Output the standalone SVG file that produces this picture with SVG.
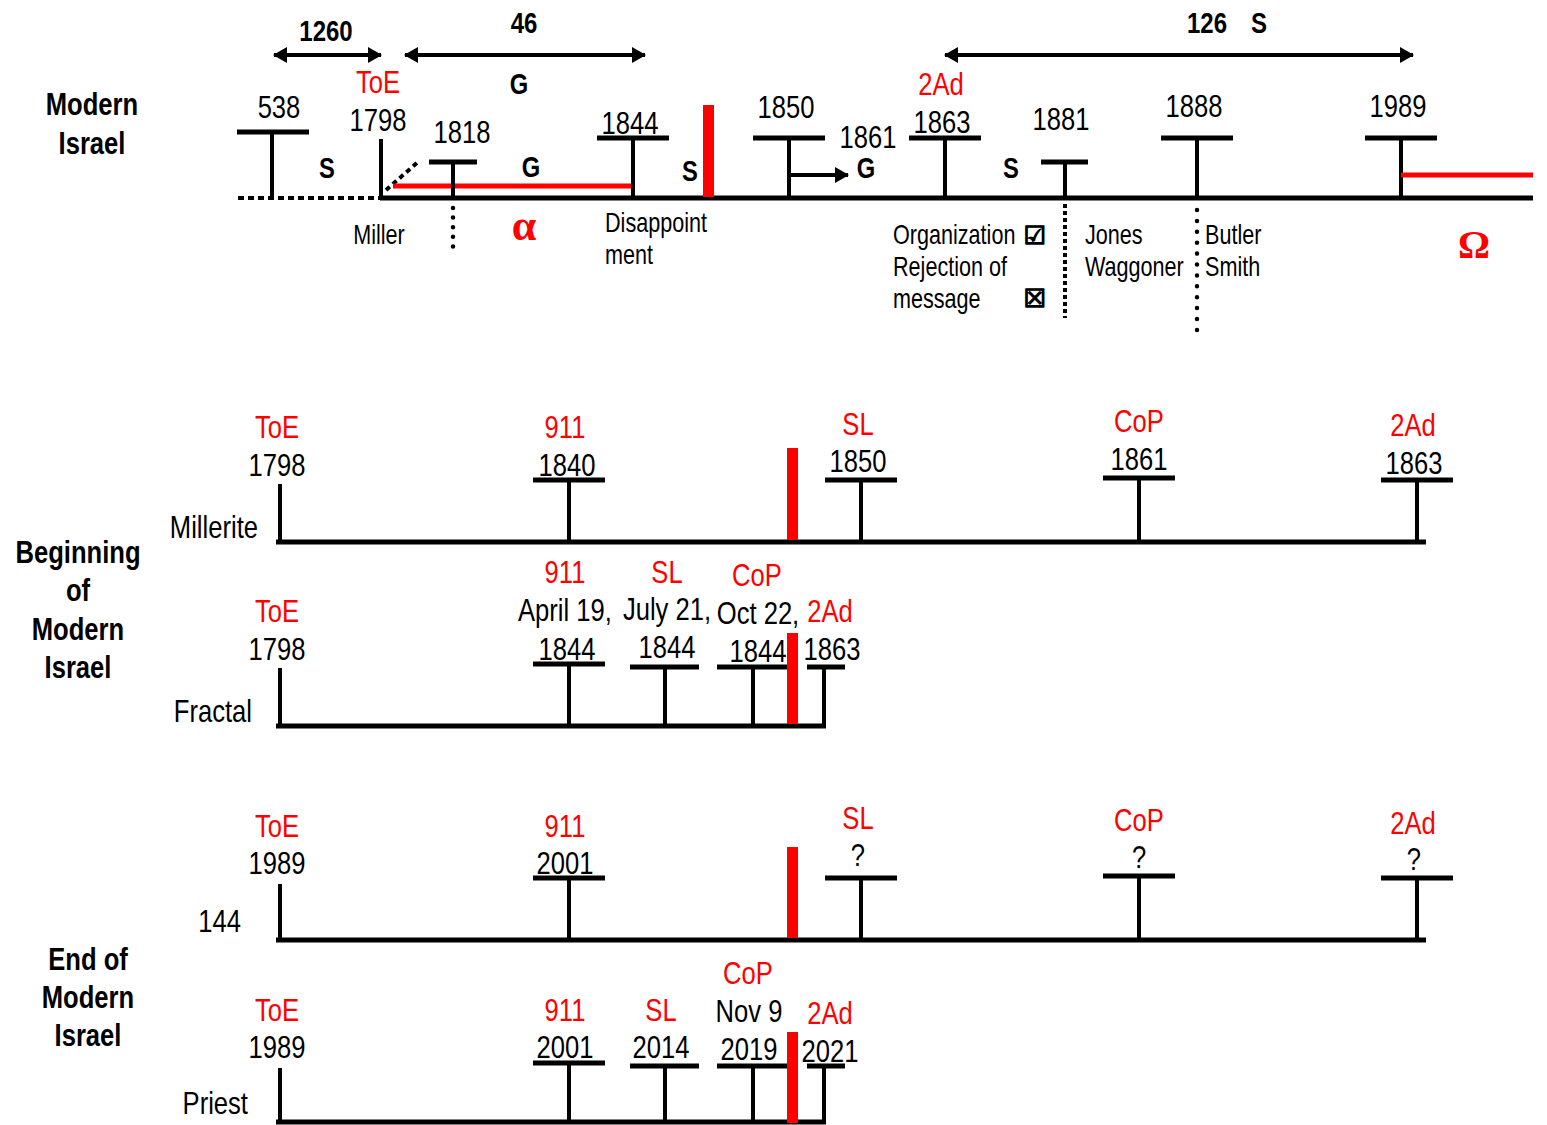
<svg xmlns="http://www.w3.org/2000/svg" width="1547" height="1125" viewBox="0 0 1547 1125">
<style>
text{font-family:"Liberation Sans",Arial,sans-serif;fill:#000}
.n{font-size:32px;text-anchor:middle;transform:scaleX(0.8);transform-box:fill-box;transform-origin:center}
.r{fill:#ff0000}
.hd{font-size:32px;font-weight:bold;text-anchor:middle;transform:scaleX(0.8);transform-box:fill-box;transform-origin:center}
.sm{font-size:27px;text-anchor:start;transform:scaleX(0.8);transform-box:fill-box;transform-origin:left center}
.smc{font-size:27px;text-anchor:middle;transform:scaleX(0.8);transform-box:fill-box;transform-origin:center}
.lb{font-size:32px;text-anchor:end;transform:scaleX(0.8);transform-box:fill-box;transform-origin:right center}
.sg{font-size:29px;font-weight:bold;text-anchor:middle;transform:scaleX(0.82);transform-box:fill-box;transform-origin:center}
.gk{font-family:"Liberation Serif","Times New Roman",serif;font-weight:bold;fill:#ff0000;text-anchor:middle}
.cb{font-family:"DejaVu Sans",sans-serif;font-size:25px;font-weight:bold;text-anchor:middle;stroke:#000;stroke-width:1.3}
.bar{stroke:#000;stroke-width:5;fill:none}
.ln{stroke:#000;stroke-width:4;fill:none}
.base{stroke:#000;stroke-width:5;fill:none}
.red{fill:#ff0000}
.redl{stroke:#ff0000;stroke-width:5;fill:none}
.arr{stroke:#000;stroke-width:4;fill:none;marker-start:url(#ah);marker-end:url(#ah)}
.arr1{stroke:#000;stroke-width:4;fill:none;marker-end:url(#ah)}
.dotr{stroke:#000;stroke-width:4.5;stroke-linecap:round;fill:none}
</style>
<defs>
<marker id="ah" viewBox="0 0 14 16" refX="13" refY="8" markerWidth="14" markerHeight="16" markerUnits="userSpaceOnUse" orient="auto-start-reverse"><path d="M0,0 L14,8 L0,16 z" fill="#000"/></marker>
</defs>

<!-- ================= TOP: Modern Israel ================= -->
<g id="title-modern-israel">
<text class="hd" x="92" y="115">Modern</text>
<text class="hd" x="92" y="154">Israel</text>
</g>

<g id="top-baseline">
<line x1="238" y1="198" x2="382" y2="198" stroke="#000" stroke-width="4" stroke-dasharray="6 4"/>
<line class="base" x1="380" y1="198" x2="1533" y2="198"/>
</g>

<g id="t-538">
<line class="bar" x1="237" y1="132" x2="309" y2="132"/>
<line class="ln" x1="272" y1="134" x2="272" y2="198"/>
<text class="n" x="279" y="118">538</text>
</g>
<text class="sg" x="327" y="178">S</text>

<g id="t-1798">
<line class="ln" x1="381" y1="139" x2="381" y2="198"/>
<text class="n r" x="378" y="93">ToE</text>
<text class="n" x="378" y="131">1798</text>
<text class="smc" x="379" y="244">Miller</text>
<line x1="386" y1="190" x2="418" y2="162" stroke="#000" stroke-width="4" stroke-dasharray="5 4"/>
</g>

<line class="redl" x1="393" y1="186" x2="632" y2="186"/>

<g id="t-1818">
<line class="bar" x1="429" y1="162" x2="477" y2="162"/>
<line class="ln" x1="453" y1="162" x2="453" y2="198"/>
<line class="dotr" x1="453" y1="208" x2="453" y2="256" stroke-dasharray="0 9.6"/>
<text class="n" x="462" y="143">1818</text>
</g>
<text class="sg" x="531" y="177">G</text>
<text class="gk" x="524" y="240" font-size="44">α</text>

<g id="t-1844">
<line class="bar" x1="597" y1="138" x2="669" y2="138"/>
<line class="ln" x1="633" y1="138" x2="633" y2="198"/>
<text class="n" x="630" y="134">1844</text>
<text class="sm" x="605" y="232">Disappoint</text>
<text class="sm" x="605" y="264">ment</text>
</g>
<text class="sg" x="690" y="181">S</text>
<rect class="red" x="703" y="105" width="11" height="92"/>

<g id="t-1850">
<line class="bar" x1="753" y1="138" x2="825" y2="138"/>
<line class="ln" x1="789" y1="138" x2="789" y2="198"/>
<text class="n" x="786" y="118">1850</text>
</g>
<g id="t-1861">
<text class="n" x="868" y="148">1861</text>
<text class="sg" x="866" y="178">G</text>
</g>

<g id="t-1863">
<line class="bar" x1="909" y1="138" x2="981" y2="138"/>
<line class="ln" x1="945" y1="138" x2="945" y2="198"/>
<text class="n r" x="941" y="95">2Ad</text>
<text class="n" x="942" y="133">1863</text>
<text class="sm" x="893" y="244">Organization</text>
<text class="sm" x="893" y="276">Rejection of</text>
<text class="sm" x="893" y="308">message</text>
<text class="cb" x="1035" y="244">☑</text>
<text class="cb" x="1035" y="307">☒</text>
</g>
<text class="sg" x="1011" y="178">S</text>

<g id="t-1881">
<line class="bar" x1="1041" y1="162" x2="1088" y2="162"/>
<line class="ln" x1="1065" y1="162" x2="1065" y2="198"/>
<line x1="1065" y1="204" x2="1065" y2="318" stroke="#000" stroke-width="4" stroke-dasharray="4 3"/>
<text class="n" x="1061" y="130">1881</text>
<text class="sm" x="1085" y="244">Jones</text>
<text class="sm" x="1085" y="276">Waggoner</text>
</g>

<g id="t-1888">
<line class="bar" x1="1161" y1="138" x2="1233" y2="138"/>
<line class="ln" x1="1197" y1="138" x2="1197" y2="198"/>
<line class="dotr" x1="1197" y1="210" x2="1197" y2="330" stroke-dasharray="0 10.9"/>
<text class="n" x="1194" y="117">1888</text>
<text class="sm" x="1205" y="244">Butler</text>
<text class="sm" x="1205" y="276">Smith</text>
</g>

<g id="t-1989">
<line class="bar" x1="1365" y1="138" x2="1437" y2="138"/>
<line class="ln" x1="1401" y1="138" x2="1401" y2="198"/>
<line class="redl" x1="1401" y1="175" x2="1533" y2="175"/>
<text class="n" x="1398" y="117">1989</text>
<text class="gk" x="1474" y="258" font-size="40">Ω</text>
</g>

<g id="top-connectors">
<line class="arr" x1="274" y1="55" x2="381" y2="55"/>
<text class="hd" x="326" y="41" style="font-size:30px">1260</text>
<line class="arr" x1="405" y1="55" x2="645" y2="55"/>
<text class="hd" x="524" y="33" style="font-size:30px">46</text>
<text class="sg" x="519" y="94">G</text>
<line class="arr" x1="945" y1="55" x2="1413" y2="55"/>
<text class="hd" x="1207" y="33" style="font-size:30px">126</text>
<text class="hd" x="1259" y="33" style="font-size:30px">S</text>
<line class="arr1" x1="789" y1="175" x2="848" y2="175"/>
</g>

<!-- ================= MIDDLE: Beginning of Modern Israel ================= -->
<g id="title-beginning">
<text class="hd" x="78" y="563">Beginning</text>
<text class="hd" x="78" y="601">of</text>
<text class="hd" x="78" y="640">Modern</text>
<text class="hd" x="78" y="678">Israel</text>
</g>

<g id="millerite-line">
<line class="base" x1="276" y1="542" x2="1426" y2="542"/>
<text class="lb" x="258" y="538">Millerite</text>
</g>
<g id="m-1798">
<line class="ln" x1="280" y1="484" x2="280" y2="542"/>
<text class="n r" x="277" y="438">ToE</text>
<text class="n" x="277" y="476">1798</text>
</g>
<g id="m-1840">
<line class="bar" x1="533" y1="480" x2="605" y2="480"/>
<line class="ln" x1="569" y1="480" x2="569" y2="542"/>
<text class="n r" x="565" y="438">911</text>
<text class="n" x="567" y="476">1840</text>
</g>
<rect class="red" x="787" y="448" width="11" height="92"/>
<g id="m-1850">
<line class="bar" x1="825" y1="480" x2="897" y2="480"/>
<line class="ln" x1="861" y1="480" x2="861" y2="542"/>
<text class="n r" x="858" y="435">SL</text>
<text class="n" x="858" y="472">1850</text>
</g>
<g id="m-1861">
<line class="bar" x1="1103" y1="478" x2="1175" y2="478"/>
<line class="ln" x1="1139" y1="478" x2="1139" y2="540"/>
<text class="n r" x="1139" y="432">CoP</text>
<text class="n" x="1139" y="470">1861</text>
</g>
<g id="m-1863">
<line class="bar" x1="1381" y1="480" x2="1453" y2="480"/>
<line class="ln" x1="1417" y1="480" x2="1417" y2="542"/>
<text class="n r" x="1413" y="436">2Ad</text>
<text class="n" x="1414" y="474">1863</text>
</g>

<g id="fractal-line">
<line class="base" x1="276" y1="726" x2="826" y2="726"/>
<text class="lb" x="252" y="722">Fractal</text>
</g>
<g id="f-1798">
<line class="ln" x1="280" y1="668" x2="280" y2="726"/>
<text class="n r" x="277" y="622">ToE</text>
<text class="n" x="277" y="660">1798</text>
</g>
<g id="f-apr">
<line class="bar" x1="533" y1="664" x2="605" y2="664"/>
<line class="ln" x1="569" y1="664" x2="569" y2="726"/>
<text class="n r" x="565" y="583">911</text>
<text class="n" x="565" y="621">April 19,</text>
<text class="n" x="567" y="660">1844</text>
</g>
<g id="f-jul">
<line class="bar" x1="630" y1="667" x2="699" y2="667"/>
<line class="ln" x1="665" y1="667" x2="665" y2="726"/>
<text class="n r" x="667" y="583">SL</text>
<text class="n" x="667" y="620">July 21,</text>
<text class="n" x="667" y="658">1844</text>
</g>
<g id="f-oct">
<line class="bar" x1="717" y1="667" x2="789" y2="667"/>
<line class="ln" x1="753" y1="667" x2="753" y2="726"/>
<text class="n r" x="757" y="586">CoP</text>
<text class="n" x="758" y="624">Oct 22,</text>
<text class="n" x="758" y="662">1844</text>
</g>
<rect class="red" x="787" y="633" width="11" height="91"/>
<g id="f-1863">
<line class="bar" x1="807" y1="667" x2="845" y2="667"/>
<line class="ln" x1="824" y1="667" x2="824" y2="726"/>
<text class="n r" x="830" y="622">2Ad</text>
<text class="n" x="832" y="660">1863</text>
</g>

<!-- ================= BOTTOM: End of Modern Israel ================= -->
<g id="title-end">
<text class="hd" x="88" y="970">End of</text>
<text class="hd" x="88" y="1008">Modern</text>
<text class="hd" x="88" y="1046">Israel</text>
</g>

<g id="l144-line">
<line class="base" x1="276" y1="940" x2="1426" y2="940"/>
<text class="lb" x="241" y="932">144</text>
</g>
<g id="e-1989">
<line class="ln" x1="280" y1="884" x2="280" y2="940"/>
<text class="n r" x="277" y="837">ToE</text>
<text class="n" x="277" y="874">1989</text>
</g>
<g id="e-2001">
<line class="bar" x1="533" y1="878" x2="605" y2="878"/>
<line class="ln" x1="569" y1="878" x2="569" y2="940"/>
<text class="n r" x="565" y="837">911</text>
<text class="n" x="565" y="874">2001</text>
</g>
<rect class="red" x="787" y="847" width="11" height="91"/>
<g id="e-sl">
<line class="bar" x1="825" y1="878" x2="897" y2="878"/>
<line class="ln" x1="861" y1="878" x2="861" y2="940"/>
<text class="n r" x="858" y="829">SL</text>
<text class="n" x="858" y="866">?</text>
</g>
<g id="e-cop">
<line class="bar" x1="1103" y1="876" x2="1175" y2="876"/>
<line class="ln" x1="1139" y1="876" x2="1139" y2="938"/>
<text class="n r" x="1139" y="831">CoP</text>
<text class="n" x="1139" y="868">?</text>
</g>
<g id="e-2ad">
<line class="bar" x1="1381" y1="878" x2="1453" y2="878"/>
<line class="ln" x1="1417" y1="878" x2="1417" y2="940"/>
<text class="n r" x="1413" y="834">2Ad</text>
<text class="n" x="1414" y="870">?</text>
</g>

<g id="priest-line">
<line class="base" x1="276" y1="1122" x2="826" y2="1122"/>
<text class="lb" x="248" y="1114">Priest</text>
</g>
<g id="p-1989">
<line class="ln" x1="280" y1="1068" x2="280" y2="1122"/>
<text class="n r" x="277" y="1021">ToE</text>
<text class="n" x="277" y="1058">1989</text>
</g>
<g id="p-2001">
<line class="bar" x1="533" y1="1063" x2="605" y2="1063"/>
<line class="ln" x1="569" y1="1063" x2="569" y2="1122"/>
<text class="n r" x="565" y="1021">911</text>
<text class="n" x="565" y="1058">2001</text>
</g>
<g id="p-2014">
<line class="bar" x1="630" y1="1066" x2="699" y2="1066"/>
<line class="ln" x1="665" y1="1066" x2="665" y2="1122"/>
<text class="n r" x="661" y="1021">SL</text>
<text class="n" x="661" y="1058">2014</text>
</g>
<g id="p-2019">
<line class="bar" x1="717" y1="1066" x2="789" y2="1066"/>
<line class="ln" x1="753" y1="1066" x2="753" y2="1122"/>
<text class="n r" x="748" y="984">CoP</text>
<text class="n" x="749" y="1022">Nov 9</text>
<text class="n" x="749" y="1060">2019</text>
</g>
<rect class="red" x="787" y="1032" width="11" height="91"/>
<g id="p-2021">
<line class="bar" x1="807" y1="1066" x2="845" y2="1066"/>
<line class="ln" x1="824" y1="1066" x2="824" y2="1122"/>
<text class="n r" x="830" y="1024">2Ad</text>
<text class="n" x="830" y="1062">2021</text>
</g>
</svg>
